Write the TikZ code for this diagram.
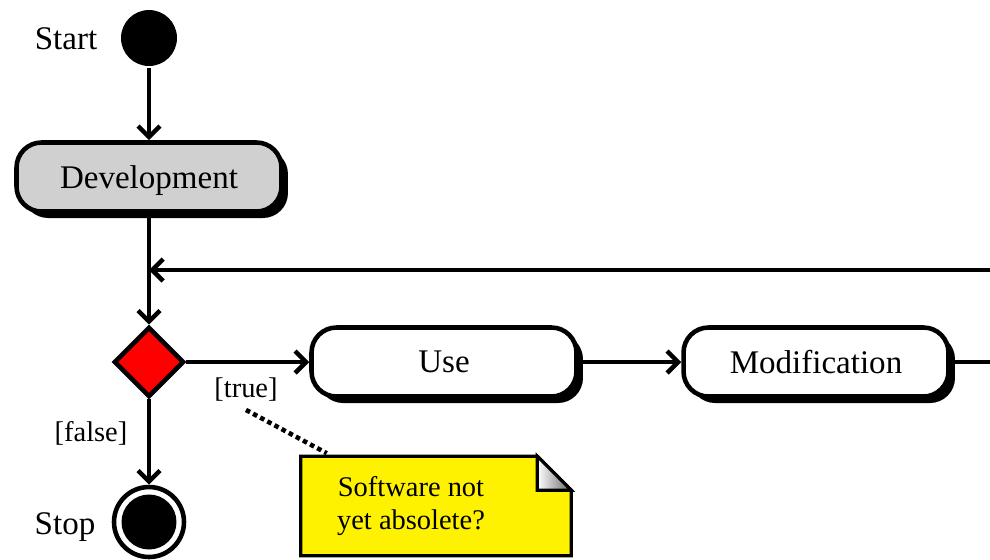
\documentclass[tikz,border=0pt]{standalone}
\usepackage{fontspec}
\setmainfont{Liberation Serif}
\usetikzlibrary{arrows.meta,shapes.geometric,shadows}
\definecolor{devgray}{RGB}{208,208,208}
\begin{document}
\begin{tikzpicture}[x=0.02cm,y=-0.02cm,line width=2.6pt,
    every node/.style={font=\fontsize{18.8}{22}\selectfont},
    initial/.style={circle,fill=black,minimum size=1.12cm,inner sep=0pt},
    final/.style={circle,draw,fill=white,minimum size=1.4cm,inner sep=0pt},
    finalcore/.style={circle,fill=black,minimum size=1.1cm,inner sep=0pt},
    activity/.style={rectangle,rounded corners=0.5cm,draw,fill=white,
      minimum width=5.3cm,minimum height=1.38cm,text depth=0pt,
      drop shadow={shadow xshift=0.13cm,shadow yshift=-0.13cm,opacity=1,fill=black}},
    decision/.style={diamond,draw,fill=red,minimum width=1.4cm,minimum height=1.4cm,inner sep=0pt},
    guard/.style={font=\fontsize{16.2}{19}\selectfont},
    notebox/.style={rectangle,minimum width=5.32cm,minimum height=1.9cm,inner sep=0pt},
    flow/.style={-{Straight Barb[length=0.22cm,width=0.44cm]}}]
  \useasboundingbox (0,0) rectangle (990,559);
  \node[initial] (start) at (149,38) {};
  \node (startlbl) at (66,39) {Start};
  \node[activity,fill=devgray] (dev) at (149,177) {Development};
  \node[decision] (dec) at (149,362) {};
  \node[activity] (use) at (444,362) {Use};
  \node[activity] (mod) at (816,362) {Modification};
  \node[final] (stop) at (149,522) {};
  \node[finalcore] (stopcore) at (stop) {};
  \node (stoplbl) at (65,527) {Stop};
  \node[guard] (truelbl) at (246,390) {[true]};
  \node[guard] (falselbl) at (91,433) {[false]};
  \coordinate (exit) at (990,362);
  \coordinate (back) at (990,270);
  \coordinate (merge) at (149,270);
  % note
  \node[notebox] (note) at (436,506) {};
  \draw[line width=1.8pt,fill=yellow] (note.north west) -- ([xshift=-0.68cm]note.north east)
    -- ([yshift=-0.68cm]note.north east) -- (note.south east) -- (note.south west) -- cycle;
  \shade[draw,line width=1.8pt,left color=white,right color=black!60]
    ([xshift=-0.68cm]note.north east) -- ([xshift=-0.68cm,yshift=-0.68cm]note.north east)
    -- ([yshift=-0.68cm]note.north east) -- cycle;
  \node[guard,align=center] (notetext) at (411,506) {Software not\\yet absolete?};
  \begin{scope}[flow]
    \draw (start) to (dev);
    \draw (dev) to (dec);
    \draw (dec) to (use);
    \draw (use) to (mod);
    \draw (dec) to (stop);
    \draw (back) to (merge);
  \end{scope}
  \draw (mod) -- (exit);
  \draw[dash pattern=on 2.6pt off 2pt] (truelbl.south) -- ([xshift=0.52cm,yshift=0.06cm]note.north west);
\end{tikzpicture}
\end{document}
